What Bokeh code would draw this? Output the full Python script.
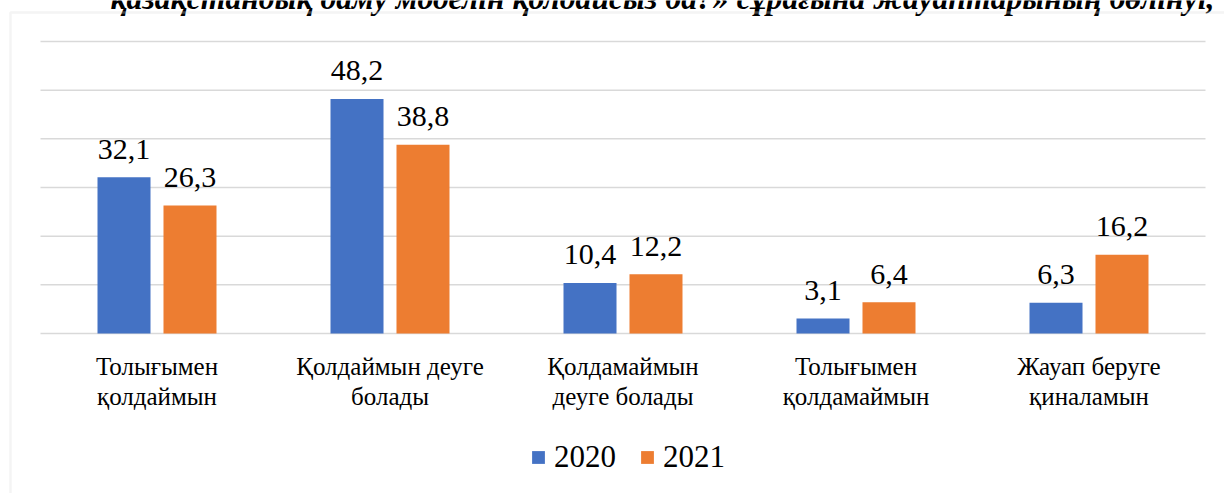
from bokeh.plotting import figure
from bokeh.models import ColumnDataSource, Range1d, Legend, LegendItem, BoxAnnotation
from bokeh.transform import dodge
from bokeh.core.properties import value
from bokeh.embed import file_html
from bokeh.resources import INLINE

categories = ["Толығымен\nқолдаймын", "Қолдаймын деуге\nболады", "Қолдамаймын\nдеуге болады",
              "Толығымен\nқолдамаймын", "Жауап беруге\nқиналамын"]
y2020 = [32.1, 48.2, 10.4, 3.1, 6.3]
y2021 = [26.3, 38.8, 12.2, 6.4, 16.2]
series = ["2020", "2021"]
grid_ticks = [0, 10, 20, 30, 40, 50, 60]
title_text = "қазақстандық даму моделін қолдайсыз ба?» сұрағына жауаптарының бөлінуі, %"

BLUE = "#4472C4"
ORANGE = "#ED7D31"
GRID = "#D9D9D9"
FONT = "Liberation Serif"

# layout (pixels)
W, H = 1224, 493
CAT_PX = 233.0          # width of one category slot
LEFT_PX = 40.0          # left edge of the plotting area
AXIS_Y_PX = 333.0       # y of the zero line from the top
TOP_PX = 41.0           # y of the top gridline
Y_PX = (AXIS_Y_PX - TOP_PX) / max(grid_ticks)

def fmt(v):
    return f"{v:.1f}".replace(".", ",")

idx = list(range(len(categories)))
src = ColumnDataSource(dict(x=idx, a=y2020, b=y2021,
                            la=[fmt(v) for v in y2020], lb=[fmt(v) for v in y2021],
                            l1=[c.split("\n")[0] for c in categories],
                            l2=[c.split("\n")[1] for c in categories]))

x0 = -0.5 - LEFT_PX / CAT_PX
y0 = -(H - AXIS_Y_PX) / Y_PX
p = figure(width=W, height=H,
           x_range=Range1d(x0, x0 + W / CAT_PX),
           y_range=Range1d(y0, y0 + H / Y_PX),
           output_backend="svg", toolbar_location=None,
           min_border=0, x_axis_type=None, y_axis_type=None)
p.outline_line_color = None
p.background_fill_color = "white"
p.border_fill_color = "white"
p.grid.visible = False

# gridlines (incl. the zero line)
p.segment(x0=[-0.5] * len(grid_ticks), x1=[len(categories) - 0.5] * len(grid_ticks),
          y0=grid_ticks, y1=grid_ticks, line_color=GRID, line_width=1.5)

off = 0.1416
bw = 0.2275
r1 = p.vbar(x=dodge("x", -off), top="a", width=bw, source=src,
            fill_color=BLUE, line_color=None)
r2 = p.vbar(x=dodge("x", off), top="b", width=bw, source=src,
            fill_color=ORANGE, line_color=None)

for col, lab, o in (("a", "la", -off), ("b", "lb", off)):
    p.text(x=dodge("x", o), y=col, text=lab, source=src,
           text_align="center", text_baseline="alphabetic", y_offset=-28,
           text_font=value(FONT), text_font_size="30px", text_color="black")

# category labels (two lines)
for lab, dy in (("l1", 33), ("l2", 63)):
    p.text(x="x", y=0, text=lab, source=src, text_align="center",
           text_baseline="alphabetic", y_offset=dy,
           text_font=value(FONT), text_font_size="25px", text_color="black")

# clipped title at the very top
p.text(x=[-0.5], y=[max(grid_ticks)], text=[title_text], x_offset=70, y_offset=-43,
       text_align="left", text_baseline="alphabetic",
       text_font=value(FONT), text_font_style="bold italic", text_font_size="31.7px",
       text_color="black")

legend = Legend(items=[LegendItem(label=series[0], renderers=[r1]),
                       LegendItem(label=series[1], renderers=[r2])],
                orientation="horizontal", location=(530, 18),
                glyph_width=16, glyph_height=16, label_standoff=8, spacing=23,
                label_text_font=FONT, label_text_font_size="31px", label_text_color="black",
                border_line_color=None, background_fill_alpha=0,
                margin=0, padding=0)
p.add_layout(legend)

p.add_layout(BoxAnnotation(left=10, right=1400, top=12, bottom=700,
                           left_units="canvas", right_units="canvas",
                           top_units="canvas", bottom_units="canvas",
                           fill_alpha=0, line_color=GRID, line_width=2.5))

open("out.html", "w").write(file_html(p, INLINE))
